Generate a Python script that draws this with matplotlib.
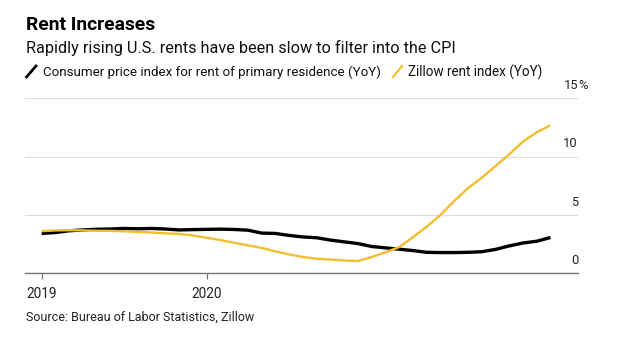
import matplotlib
matplotlib.use("Agg")
import matplotlib.pyplot as plt
from matplotlib.lines import Line2D

plt.rcParams['font.family'] = ['Roboto', 'DejaVu Sans']

# Monthly data, Jan 2019 - Feb 2022
months = list(range(38))
cpi_rent = [3.42, 3.5, 3.65, 3.72, 3.78, 3.8, 3.85, 3.82, 3.85, 3.8, 3.72, 3.75,
            3.77, 3.79, 3.76, 3.7, 3.45, 3.42, 3.25, 3.12, 3.05, 2.85, 2.7, 2.55,
            2.3, 2.18, 2.07, 1.95, 1.8, 1.78, 1.78, 1.8, 1.85, 2.05, 2.35, 2.6,
            2.75, 3.07]
zillow = [3.62, 3.68, 3.7, 3.68, 3.65, 3.64, 3.6, 3.55, 3.5, 3.43, 3.38, 3.25,
          3.05, 2.85, 2.62, 2.4, 2.18, 1.88, 1.62, 1.4, 1.25, 1.18, 1.1, 1.05,
          1.4, 1.8, 2.25, 3.1, 4.0, 5.0, 6.2, 7.3, 8.2, 9.2, 10.2, 11.3,
          12.1, 12.7]
xtick_pos = [0, 12]
xtick_labels = ["2019", "2020"]
ytick_vals = [0, 5, 10, 15]
ytick_labels = ["0", "5", "10", "15"]

W, H = 623, 344
fig = plt.figure(figsize=(W / 100, H / 100), dpi=100)

def fx(x):
    return x / W

def fy(y):
    return 1 - y / H

ax_left, ax_right, ax_top, ax_bottom = 25, 578, 98.5, 273.3
ax = fig.add_axes([fx(ax_left), fy(ax_bottom), fx(ax_right - ax_left), (ax_bottom - ax_top) / H])

yellow = "#F3BE2E"
ax.plot(months, cpi_rent, color="black", lw=2.4, solid_capstyle="butt", zorder=3)
ax.plot(months, zillow, color=yellow, lw=1.7, solid_capstyle="butt", zorder=4)

# x range: month 0 at px 41.7, month step 13.75 px
step = (206.7 - 41.7) / 12
x0 = -(41.7 - ax_left) / step
x1 = (ax_right - 41.7) / step
ax.set_xlim(x0, x1)
ax.set_ylim(0, 15)

for s in ["top", "right", "left"]:
    ax.spines[s].set_visible(False)
ax.spines["bottom"].set_color("#777777")
ax.spines["bottom"].set_linewidth(1.0)

ax.set_yticks(ytick_vals)
ax.yaxis.grid(True, color="#dddddd", lw=0.9)
ax.set_axisbelow(True)
ax.tick_params(axis="y", length=0, labelleft=False)

ax.set_xticks(xtick_pos)
ax.set_xticklabels(xtick_labels, fontsize=9.8, color="#222222")
ax.tick_params(axis="x", length=4, width=0.9, color="#777777", pad=6)

# right-side y labels above gridlines
for v, lab in zip(ytick_vals, ytick_labels):
    ax.text(1.0, v + 0.55, lab, transform=ax.get_yaxis_transform(), ha="right", va="bottom",
            fontsize=9.3, color="#222222")
    if v == 15:
        ax.text(1.0, v + 0.55, "%", transform=ax.get_yaxis_transform(), ha="left", va="bottom",
                fontsize=9.3, color="#222222")

# Titles
fig.text(fx(26), fy(25), "Rent Increases", fontsize=13.9, fontweight="bold", ha="left", va="center")
fig.text(fx(26), fy(48), "Rapidly rising U.S. rents have been slow to filter into the CPI",
         fontsize=11.7, ha="left", va="center", color="#111111")

# Legend
fig.add_artist(Line2D([fx(26.5), fx(36)], [fy(77), fy(66)], color="black", lw=2.0))
fig.text(fx(43), fy(72), "Consumer price index for rent of primary residence (YoY)",
         fontsize=9.65, ha="left", va="center", color="#111111")
fig.add_artist(Line2D([fx(393), fx(402)], [fy(77), fy(66)], color=yellow, lw=1.6))
fig.text(fx(408), fy(72), "Zillow rent index (YoY)", fontsize=9.75, ha="left", va="center",
         color="#111111")

# Source
fig.text(fx(26), fy(317), "Source: Bureau of Labor Statistics, Zillow", fontsize=9.0,
         ha="left", va="center", color="#222222")

fig.savefig("out.png", dpi=100)
